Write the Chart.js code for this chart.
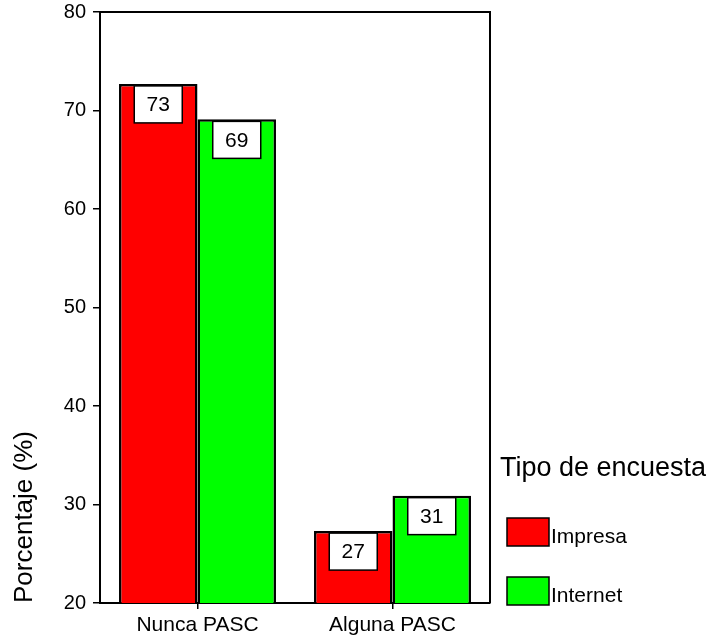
<!DOCTYPE html>
<html>
<head>
<meta charset="utf-8">
<script src="https://cdn.jsdelivr.net/npm/chart.js@4.4.1/dist/chart.umd.min.js"></script>
<style>
  body { margin: 0; background: #fff; }
  canvas { display: block; }
</style>
</head>
<body>
<canvas id="myChart" width="712" height="641"></canvas>
<script>
// datos
const categories = ['Nunca PASC', 'Alguna PASC'];
const impresa = [72.7, 27.3];
const internet = [69.1, 30.9];
const seriesNames = ['Impresa', 'Internet'];
const seriesColors = ['#ff0000', '#00ff00'];
const yMin = 20, yMax = 80, yStep = 10;
const yTitle = 'Porcentaje (%)';
const legendTitle = 'Tipo de encuesta';

var font = "'Liberation Sans', Arial, sans-serif";
Chart.defaults.font.family = font;
Chart.defaults.color = '#000';

// marco superior y derecho del area
const framePlugin = {
    id: 'frame',
    afterDraw(chart) {
        let a = chart.chartArea;
        let c = chart.ctx;
        c.save();
        c.strokeStyle = '#000';
        c.lineWidth = 2;
        c.beginPath();
        c.moveTo(a.left, a.top);
        c.lineTo(a.right, a.top);
        c.lineTo(a.right, a.bottom);
        c.stroke();
        c.restore();
    }
};

// etiquetas con caja blanca
const boxLabels = {
    id: 'boxLabels',
    afterDatasetsDraw(chart) {
        let c = chart.ctx;
        c.save();
        chart.data.datasets.forEach((ds, i) => {
            chart.getDatasetMeta(i).data.forEach((bar, j) => {
                let w = 48, h = 37;
                let x = bar.x - w / 2;
                let y = bar.y + 2;
                c.fillStyle = '#fff';
                c.fillRect(x, y, w, h);
                c.strokeStyle = '#000';
                c.lineWidth = 1.5;
                c.strokeRect(x, y, w, h);
                c.fillStyle = '#000';
                c.font = '21px ' + font;
                c.textAlign = 'center';
                c.textBaseline = 'middle';
                c.fillText(Math.round(ds.data[j]), bar.x, y + h / 2 + 1);
            });
        });
        c.restore();
    }
};

// leyenda a la derecha
const sideLegend = {
    id: 'sideLegend',
    afterDraw(chart) {
        let c = chart.ctx;
        c.save();
        c.fillStyle = '#000';
        c.font = '27px ' + font;
        c.textAlign = 'left';
        c.textBaseline = 'alphabetic';
        c.fillText(legendTitle, 500, 476);
        let tops = [518, 577];
        chart.data.datasets.forEach((ds, i) => {
            c.fillStyle = ds.backgroundColor;
            c.fillRect(507, tops[i], 42, 28);
            c.strokeStyle = '#000';
            c.lineWidth = 1.5;
            c.strokeRect(507, tops[i], 42, 28);
            c.fillStyle = '#000';
            c.font = '21px ' + font;
            c.fillText(ds.label, 551, tops[i] + 25);
        });
        c.restore();
    }
};

var ctx = document.getElementById('myChart').getContext('2d');
var myChart = new Chart(ctx, {
    type: 'bar',
    data: {
        labels: categories,
        datasets: [{
            label: seriesNames[0],
            backgroundColor: seriesColors[0],
            borderColor: '#000',
            borderWidth: 2.5,
            data: impresa,
        },
        {
            label: seriesNames[1],
            backgroundColor: seriesColors[1],
            borderColor: '#000',
            borderWidth: 2.5,
            data: internet,
        }]
    },
    options: {
        responsive: false,
        devicePixelRatio: 1,
        animation: false,
        categoryPercentage: 0.805,
        barPercentage: 1.0,
        layout: { padding: { top: 12, right: 222, left: 0, bottom: 0 } },
        plugins: {
            legend: { display: false },
            tooltip: { enabled: false }
        },
        scales: {
            x: {
                afterFit: s => { s.height = 38; s.paddingLeft = 0; s.paddingRight = 0; },
                grid: { offset: false, drawOnChartArea: false, tickLength: 6, color: '#000', lineWidth: 1.5 },
                border: { color: '#000', width: 2 },
                ticks: { font: { size: 21 }, color: '#000', padding: 4 }
            },
            y: {
                min: yMin,
                max: yMax,
                afterFit: s => { s.width = 100; s.paddingTop = 0; s.paddingBottom = 0; },
                grid: { drawOnChartArea: false, tickLength: 7, color: '#000', lineWidth: 1.5 },
                border: { color: '#000', width: 2 },
                ticks: { stepSize: yStep, font: { size: 20 }, color: '#000', padding: 7 },
                title: {
                    display: true,
                    text: yTitle,
                    align: 'start',
                    font: { size: 26 },
                    color: '#000',
                    padding: { top: 9, bottom: 0 }
                }
            }
        }
    },
    plugins: [framePlugin, boxLabels, sideLegend]
});
</script>
</body>
</html>
